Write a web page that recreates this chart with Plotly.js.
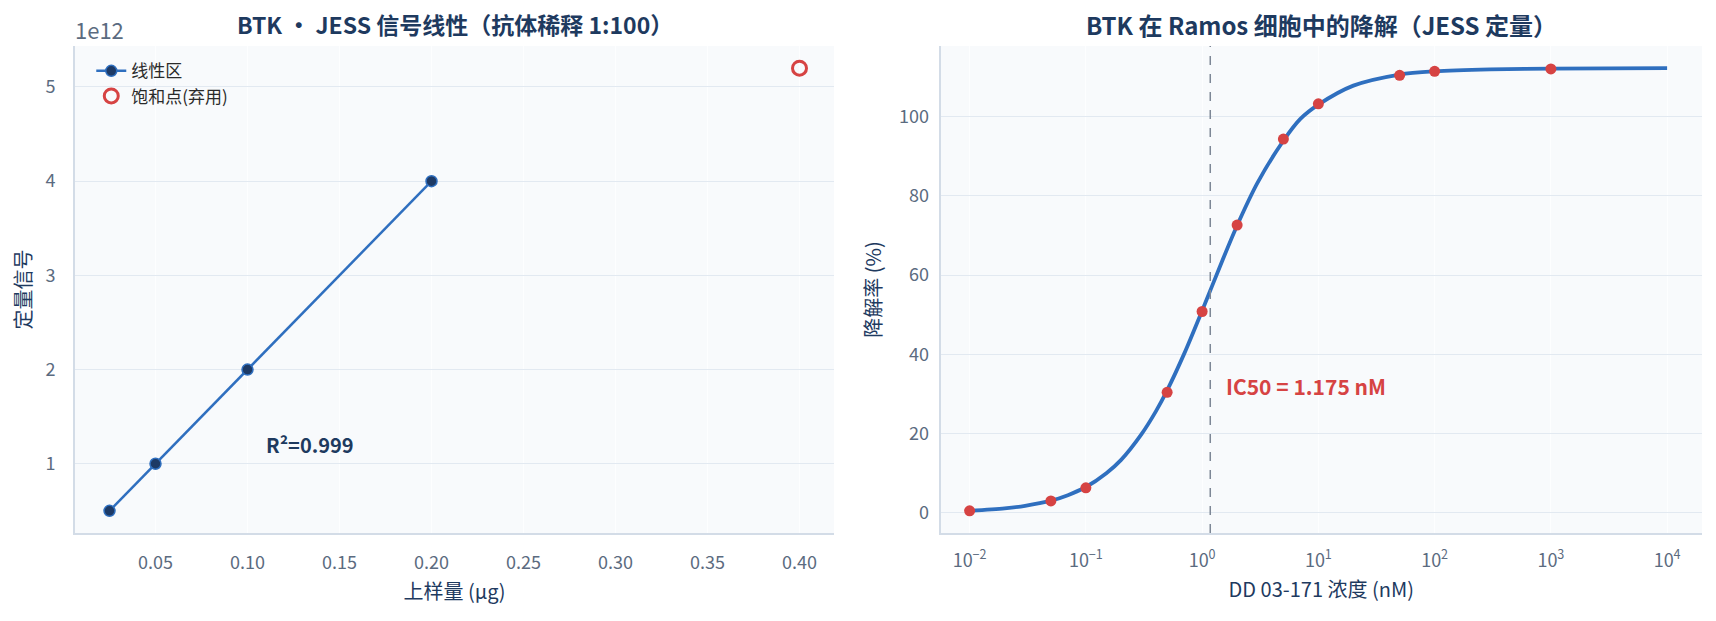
<!DOCTYPE html>
<html>
<head>
<meta charset="utf-8">
<script src="https://cdn.plot.ly/plotly-3.0.1.min.js"></script>
<style>
  html, body { margin: 0; padding: 0; background: #ffffff; }
  #chart { width: 1716px; height: 621px; }
</style>
</head>
<body>
<div id="chart"></div>
<script>
// left panel: JESS linearity
var loadUg = [0.025, 0.05, 0.1, 0.2];
var signal = [0.5e12, 1e12, 2e12, 4e12];
var satLoad = [0.4];
var satSignal = [5.2e12];
var signalTicks = [1e12, 2e12, 3e12, 4e12, 5e12];
var signalTickText = ['1', '2', '3', '4', '5'];

// right panel: degradation in Ramos cells
var conc = [0.01, 0.05, 0.1, 0.5, 1, 2, 5, 10, 50, 100, 1000];
var degradation = [0.5, 3.0, 6.3, 30.4, 50.8, 72.6, 94.3, 103.2, 110.4, 111.4, 112.0];
// fitted curve
var fitConc = [0.01, 0.02, 0.03, 0.05, 0.07, 0.1, 0.15, 0.2, 0.3, 0.4, 0.5, 0.7, 1, 1.5, 2, 3, 5, 7, 10, 20, 50, 100, 300, 1000, 10000];
var fitDeg = [0.5, 1.1, 1.75, 3.05, 4.45, 6.5, 10.0, 13.3, 19.8, 25.6, 30.9, 40.1, 51.0, 63.8, 72.5, 83.3, 93.9, 99.4, 103.0, 107.8, 110.6, 111.4, 111.9, 112.1, 112.2];
var ic50 = 1.175;
var concTicks = [0.01, 0.1, 1, 10, 100, 1000, 10000];
var concTickText = ['10<sup>−2</sup>', '10<sup>−1</sup>', '10<sup>0</sup>', '10<sup>1</sup>', '10<sup>2</sup>', '10<sup>3</sup>', '10<sup>4</sup>'];

var FONT = '"Noto Sans CJK SC", "Noto Sans", sans-serif';
var navy = '#1e3a5f';
var tickGray = '#5b6b80';
var blue = '#2f6fbf';
var red = '#d64343';

var traces = [
  {
    x: loadUg, y: signal, type: 'scatter', mode: 'lines+markers', name: '线性区',
    line: {color: blue, width: 2.5},
    marker: {color: '#1d3a66', size: 11, line: {color: blue, width: 1.5}},
    xaxis: 'x', yaxis: 'y'
  },
  {
    x: satLoad, y: satSignal, type: 'scatter', mode: 'markers', name: '饱和点(弃用)',
    marker: {color: red, size: 14, symbol: 'circle-open', line: {color: red, width: 3}},
    xaxis: 'x', yaxis: 'y'
  },
  {
    x: fitConc, y: fitDeg, type: 'scatter', mode: 'lines', showlegend: false,
    line: {color: blue, width: 3.8, shape: 'spline', smoothing: 0.8},
    xaxis: 'x2', yaxis: 'y2'
  },
  {
    x: conc, y: degradation, type: 'scatter', mode: 'markers', showlegend: false,
    marker: {color: red, size: 11},
    xaxis: 'x2', yaxis: 'y2'
  }
];

var axisBase = {
  showline: true, linecolor: '#d3dce7', linewidth: 2, mirror: false,
  ticks: '', zeroline: false,
  tickfont: {family: FONT, size: 18, color: tickGray},
  gridcolor: '#e2e9f1', gridwidth: 1
};

function ax(extra) {
  return Object.assign({}, axisBase, extra);
}

var layout = {
  width: 1716, height: 621,
  paper_bgcolor: '#ffffff', plot_bgcolor: '#f8fafc',
  margin: {l: 75, r: 14, t: 46, b: 88},
  font: {family: FONT, color: navy},
  showlegend: true,
  legend: {
    x: 0.010, y: 0.985, xanchor: 'left', yanchor: 'top',
    bgcolor: 'rgba(0,0,0,0)', font: {family: FONT, size: 17, color: '#2a2a2a'},
    tracegroupgap: 4
  },
  xaxis: ax({
    domain: [0, 0.4665], range: [0.00625, 0.41875],
    tick0: 0.05, dtick: 0.05, tickformat: '.2f',
    showgrid: true, gridcolor: '#fdfeff',
    ticklabelstandoff: 12,
    title: {text: '上样量 (μg)', font: {family: FONT, size: 20, color: navy}, standoff: 12}
  }),
  yaxis: ax({
    domain: [0, 1], range: [0.265e12, 5.435e12],
    tickvals: signalTicks, ticktext: signalTickText,
    ticklabelstandoff: 14,
    title: {text: '定量信号', font: {family: FONT, size: 20, color: navy}, standoff: 8}
  }),
  xaxis2: ax({
    domain: [0.532, 1], type: 'log', range: [-2.25, 4.3],
    tickvals: concTicks, ticktext: concTickText,
    showgrid: true, gridcolor: '#fdfeff',
    ticklabelstandoff: 10,
    anchor: 'y2',
    title: {text: 'DD 03-171 浓度 (nM)', font: {family: FONT, size: 20, color: navy}, standoff: 12}
  }),
  yaxis2: ax({
    domain: [0, 1], range: [-5.1, 117.8], dtick: 20, tick0: 0,
    ticklabelstandoff: 6,
    anchor: 'x2',
    title: {text: '降解率 (%)', font: {family: FONT, size: 20, color: navy}, standoff: 12}
  }),
  shapes: [
    {
      type: 'line', xref: 'x2', yref: 'paper', x0: ic50, x1: ic50, y0: 0, y1: 1,
      line: {color: '#7d8796', width: 1.5, dash: 'dash'}
    }
  ],
  annotations: [
    {
      text: '<b>BTK · JESS 信号线性（抗体稀释 1:100）</b>',
      xref: 'paper', yref: 'paper', x: 0.2333, y: 1, yshift: 22, xanchor: 'center', yanchor: 'middle',
      showarrow: false, font: {family: FONT, size: 23, color: navy}
    },
    {
      text: '<b>BTK 在 Ramos 细胞中的降解（JESS 定量）</b>',
      xref: 'paper', yref: 'paper', x: 0.766, y: 1, yshift: 22, xanchor: 'center', yanchor: 'middle',
      showarrow: false, font: {family: FONT, size: 24, color: navy}
    },
    {
      text: '1e12', xref: 'paper', yref: 'paper', x: 0, y: 1, xanchor: 'left', yanchor: 'bottom',
      xshift: -2, yshift: -1, showarrow: false, font: {family: FONT, size: 22, color: tickGray}
    },
    {
      text: '<b>R²=0.999</b>', xref: 'x', yref: 'y', x: 0.109, y: 1.2e12, xanchor: 'left',
      showarrow: false, font: {family: FONT, size: 20, color: navy}
    },
    {
      text: '<b>IC50 = 1.175 nM</b>', xref: 'x2', yref: 'y2', x: Math.log10(1.55), y: 32, xanchor: 'left',
      showarrow: false, font: {family: FONT, size: 21, color: red}
    }
  ]
};

Plotly.newPlot('chart', traces, layout, {displayModeBar: false, staticPlot: true});
</script>
</body>
</html>
